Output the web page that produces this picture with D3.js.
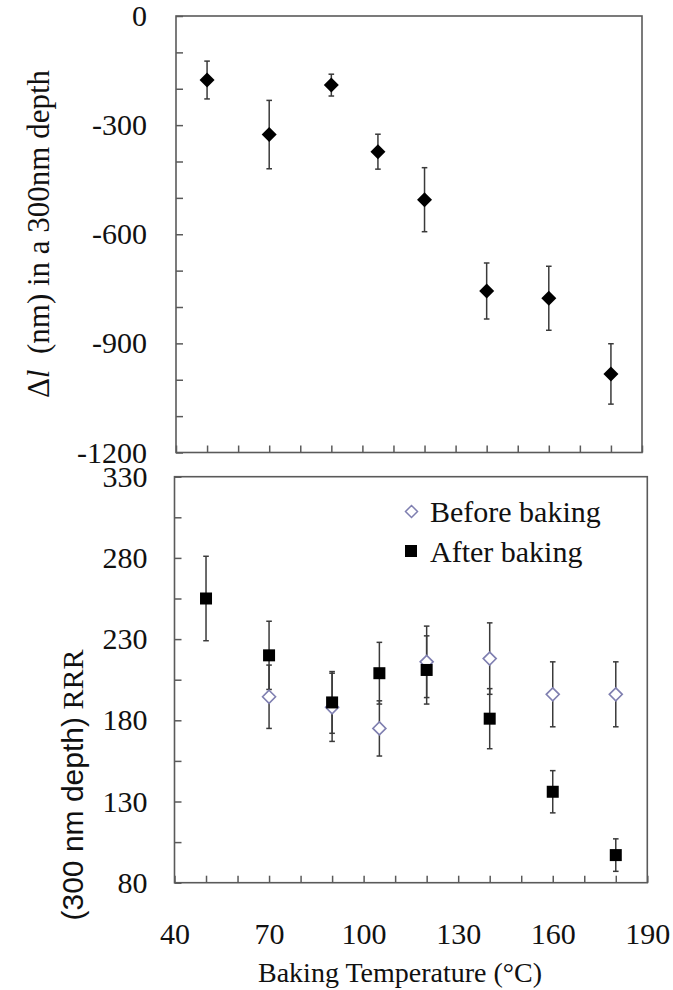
<!DOCTYPE html>
<html>
<head>
<meta charset="utf-8">
<script src="https://cdn.jsdelivr.net/npm/d3@7"></script>
<style>
  html, body { margin: 0; padding: 0; background: #fff; }
  svg { display: block; }
  text { font-family: "Liberation Serif", "Times New Roman", serif; fill: #111; }
</style>
</head>
<body>
<svg id="chart" width="673" height="990"></svg>
<script>
// Baking temperatures (°C)
const temps = [50, 70, 90, 105, 120, 140, 160, 180];

// Upper panel: length change Δl (nm) in a 300 nm depth
const deltaL    = [-176, -326, -190, -373, -505, -756, -776, -984];
const deltaLErr = [52, 94, 30, 48, 88, 77, 88, 83];

// Lower panel: RRR (300 nm depth)
const beforeTemps = [70, 90, 105, 120, 140, 160, 180];
const beforeRRR   = [194.5, 188, 175, 216, 218, 196, 196];
const beforeErr   = [19.5, 21, 17, 22, 22, 20, 20];

const afterTemps = [50, 70, 90, 105, 120, 140, 160, 180];
const afterRRR   = [255, 220, 191, 209, 211, 181, 136, 97];
const afterErr   = [26, 21, 19, 19, 21, 18.5, 13, 10];

// Axis ticks
const xTicks = d3.range(40, 191, 10);
const xLabels = [40, 70, 100, 130, 160, 190];
const topYTicks = d3.range(0, -1201, -100);
const topYLabels = [0, -300, -600, -900, -1200];
const botYTicks = d3.range(80, 331, 25);
const botYLabels = [80, 130, 180, 230, 280, 330];

const svg = d3.select("#chart");
const frameColor = "#5a5a5a";
const barColor = "#3a3a3a";

// Diamond symbol (square rotated 45°), r = half diagonal
const diamond = r => `M0,${-r}L${r},0L0,${r}L${-r},0Z`;

function frame(g, x, y) {
  const [x0, x1] = x.range();
  const [y1, y0] = y.range();
  g.append("rect")
    .attr("x", x0).attr("y", y0)
    .attr("width", x1 - x0).attr("height", y1 - y0)
    .attr("fill", "none").attr("stroke", frameColor).attr("stroke-width", 1.6);
}

function styleAxis(g) {
  g.attr("font-family", null);
  g.select(".domain").remove();
  g.selectAll(".tick line").attr("stroke", frameColor).attr("stroke-width", 1.5);
  g.selectAll(".tick text")
    .attr("font-size", 30).attr("fill", "#111");
}

function errorBars(g, xs, ys, errs, x, y, cap) {
  const rows = xs.map((t, i) => ({ t, v: ys[i], e: errs[i] }));
  const eb = g.append("g").attr("stroke", barColor).attr("stroke-width", 1.5).attr("fill", "none");
  eb.selectAll("line.v").data(rows).join("line").attr("class", "v")
    .attr("x1", d => x(d.t)).attr("x2", d => x(d.t))
    .attr("y1", d => y(d.v + d.e)).attr("y2", d => y(d.v - d.e));
  eb.selectAll("line.top").data(rows).join("line").attr("class", "top")
    .attr("x1", d => x(d.t) - cap).attr("x2", d => x(d.t) + cap)
    .attr("y1", d => y(d.v + d.e)).attr("y2", d => y(d.v + d.e));
  eb.selectAll("line.bot").data(rows).join("line").attr("class", "bot")
    .attr("x1", d => x(d.t) - cap).attr("x2", d => x(d.t) + cap)
    .attr("y1", d => y(d.v - d.e)).attr("y2", d => y(d.v - d.e));
}

// ---------- Upper panel ----------
const xTop = d3.scaleLinear().domain([40, 190]).range([176, 642]);
const yTop = d3.scaleLinear().domain([-1200, 0]).range([452.5, 16]);

const upper = svg.append("g");
upper.append("g").attr("transform", `translate(0,${yTop.range()[0]})`)
  .call(d3.axisBottom(xTop).tickValues(xTicks).tickSize(-7).tickSizeOuter(0).tickFormat(""))
  .call(styleAxis);
upper.append("g").attr("transform", `translate(${xTop.range()[0]},0)`)
  .call(d3.axisLeft(yTop).tickValues(topYTicks).tickSize(-7).tickSizeOuter(0).tickPadding(29)
    .tickFormat(d => topYLabels.includes(d) ? String(d) : ""))
  .call(styleAxis);
frame(upper, xTop, yTop);

errorBars(upper, temps, deltaL, deltaLErr, xTop, yTop, 2.8);
upper.append("g").selectAll("path").data(temps).join("path")
  .attr("transform", (t, i) => `translate(${xTop(t)},${yTop(deltaL[i])})`)
  .attr("d", diamond(7.5))
  .attr("fill", "#000");

// Upper y title
const tt = upper.append("text")
  .attr("transform", "translate(49,234) rotate(-90)")
  .attr("text-anchor", "middle")
  .attr("font-size", 31);
tt.append("tspan").text("Δ");
tt.append("tspan").attr("font-style", "italic").text("l");
tt.append("tspan").text("\u00a0 (nm) in a 300nm depth");

// ---------- Lower panel ----------
const xBot = d3.scaleLinear().domain([40, 190]).range([174.5, 647.3]);
const yBot = d3.scaleLinear().domain([80, 330]).range([882.7, 476.7]);

const lower = svg.append("g");
lower.append("g").attr("transform", `translate(0,${yBot.range()[0]})`)
  .call(d3.axisBottom(xBot).tickValues(xTicks).tickSize(-7).tickSizeOuter(0).tickPadding(40)
    .tickFormat(d => xLabels.includes(d) ? String(d) : ""))
  .call(styleAxis);
lower.append("g").attr("transform", `translate(${xBot.range()[0]},0)`)
  .call(d3.axisLeft(yBot).tickValues(botYTicks).tickSize(-7).tickSizeOuter(0).tickPadding(27)
    .tickFormat(d => botYLabels.includes(d) ? String(d) : ""))
  .call(styleAxis);
frame(lower, xBot, yBot);

errorBars(lower, beforeTemps, beforeRRR, beforeErr, xBot, yBot, 2.8);
errorBars(lower, afterTemps, afterRRR, afterErr, xBot, yBot, 2.8);

// Before baking: hollow diamonds
lower.append("g").selectAll("path").data(beforeTemps).join("path")
  .attr("transform", (t, i) => `translate(${xBot(t)},${yBot(beforeRRR[i])})`)
  .attr("d", diamond(6.5))
  .attr("fill", "#fff").attr("stroke", "#7f7fb0").attr("stroke-width", 1.6);

// After baking: filled squares
lower.append("g").selectAll("rect").data(afterTemps).join("rect")
  .attr("x", t => xBot(t) - 6)
  .attr("y", (t, i) => yBot(afterRRR[i]) - 6)
  .attr("width", 12).attr("height", 12)
  .attr("fill", "#000");

// Legend
const legend = lower.append("g");
legend.append("path")
  .attr("transform", "translate(411.5,511.5)")
  .attr("d", diamond(6))
  .attr("fill", "#fff").attr("stroke", "#7f7fb0").attr("stroke-width", 1.5);
legend.append("text").attr("x", 430).attr("y", 521.5).attr("font-size", 30).text("Before baking");
legend.append("rect").attr("x", 405).attr("y", 545).attr("width", 12).attr("height", 12).attr("fill", "#000");
legend.append("text").attr("x", 430).attr("y", 561.5).attr("font-size", 30).text("After baking");

// Lower y title
const bt = lower.append("text")
  .attr("transform", "translate(83,785) rotate(-90)")
  .attr("text-anchor", "middle")
  .attr("font-size", 30);
bt.append("tspan").style("font-family", "'Liberation Sans', Arial, sans-serif").text("(300 nm depth)");
bt.append("tspan").text(" RRR");

// x title
svg.append("text")
  .attr("x", 400).attr("y", 981.5)
  .attr("text-anchor", "middle").attr("font-size", 28)
  .text("Baking Temperature (°C)");
</script>
</body>
</html>
